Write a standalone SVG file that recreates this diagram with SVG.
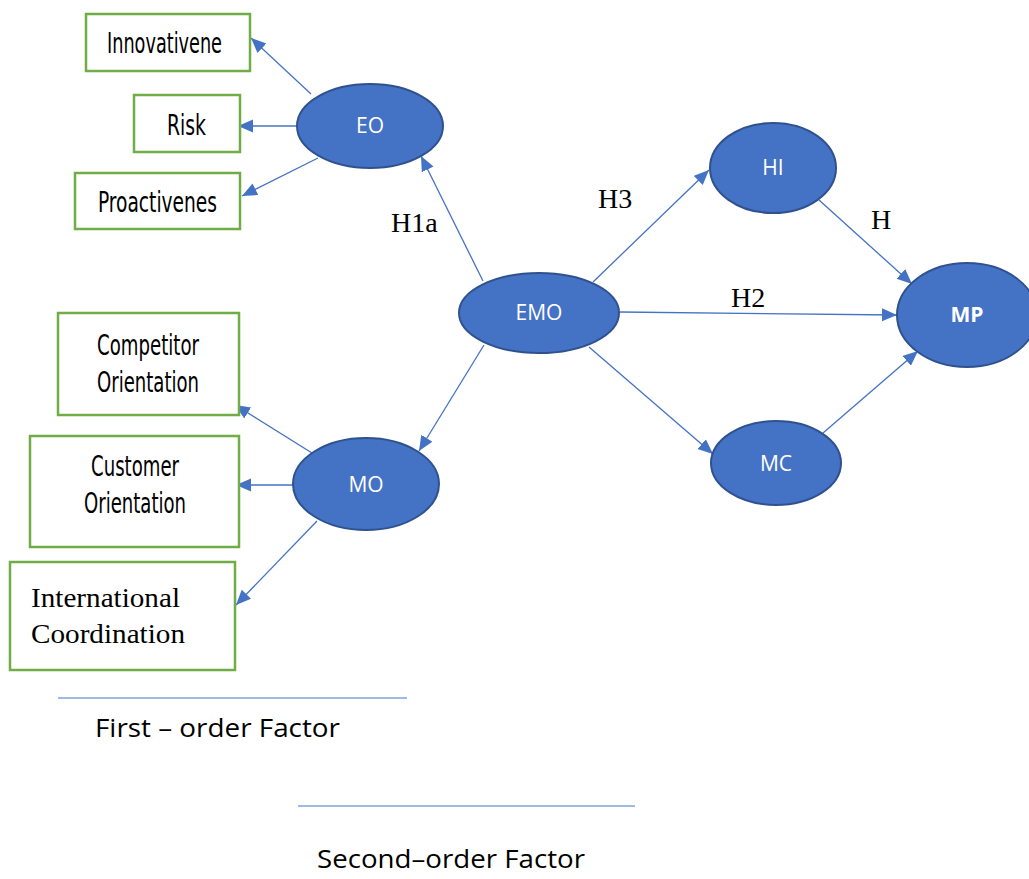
<svg xmlns="http://www.w3.org/2000/svg" width="1029" height="879" viewBox="0 0 1029 879">
<style>
.box{fill:#fff;stroke:#70ad47;stroke-width:2.5}
.ell{fill:#4472c4;stroke:#2f528f;stroke-width:2}
.cond{font-family:"Liberation Sans Narrow","DejaVu Sans Condensed","Roboto",sans-serif;font-stretch:condensed;font-size:29px;fill:#000}
.tnr{font-family:"Liberation Serif","Times New Roman",serif;font-size:28px;fill:#000}
.nl{font-family:"Open Sans","Liberation Sans",sans-serif;font-size:21px;fill:#fff;text-anchor:middle}
.leg{font-family:"Open Sans","Liberation Sans",sans-serif;font-size:26px;fill:#000}
.con{stroke:#4472c4;stroke-width:1.3;fill:none;marker-end:url(#ah)}
.lg{stroke:#7ea6d8;stroke-width:1.5}
</style>
<defs>
<marker id="ah" markerUnits="userSpaceOnUse" markerWidth="16" markerHeight="14" refX="15" refY="6.5" orient="auto">
<path d="M0,0 L15,6.5 L0,13 z" fill="#4472c4"/>
</marker>
</defs>
<g id="connectors">
<line class="con" x1="311" y1="94" x2="251" y2="38"/>
<line class="con" x1="297" y1="126" x2="238" y2="126"/>
<line class="con" x1="318" y1="158" x2="242" y2="196"/>
<line class="con" x1="312" y1="453" x2="235" y2="405"/>
<line class="con" x1="293" y1="485" x2="236" y2="485"/>
<line class="con" x1="317" y1="521" x2="236" y2="605"/>
<line class="con" x1="483" y1="281" x2="421" y2="156"/>
<line class="con" x1="484" y1="345" x2="419" y2="451"/>
<line class="con" x1="593" y1="282" x2="709" y2="170"/>
<line class="con" x1="620" y1="312" x2="897" y2="315"/>
<line class="con" x1="589" y1="347" x2="713" y2="454"/>
<line class="con" x1="819" y1="200" x2="912" y2="284"/>
<line class="con" x1="823" y1="433" x2="918" y2="351"/>
</g>
<g id="innovativene"><rect class="box" x="86" y="14" width="164" height="57"/><text class="cond" x="107" y="53" textLength="115" lengthAdjust="spacingAndGlyphs">Innovativene</text></g>
<g id="risk"><rect class="box" x="134" y="95" width="106" height="57"/><text class="cond" x="167" y="135" textLength="39" lengthAdjust="spacingAndGlyphs">Risk</text></g>
<g id="proactivenes"><rect class="box" x="75" y="173" width="165" height="56"/><text class="cond" x="98" y="212" textLength="119" lengthAdjust="spacingAndGlyphs">Proactivenes</text></g>
<g id="competitor"><rect class="box" x="58" y="313" width="181" height="102"/><text class="cond" x="97" y="355" textLength="102" lengthAdjust="spacingAndGlyphs">Competitor</text><text class="cond" x="97" y="392" textLength="102" lengthAdjust="spacingAndGlyphs">Orientation</text></g>
<g id="customer"><rect class="box" x="30" y="436" width="209" height="111"/><text class="cond" x="91" y="476" textLength="88" lengthAdjust="spacingAndGlyphs">Customer</text><text class="cond" x="84" y="513" textLength="102" lengthAdjust="spacingAndGlyphs">Orientation</text></g>
<g id="international"><rect class="box" x="10" y="562" width="225" height="108"/><text class="tnr" x="31" y="607" textLength="149" lengthAdjust="spacingAndGlyphs">International</text><text class="tnr" x="31" y="643" textLength="154" lengthAdjust="spacingAndGlyphs">Coordination</text></g>
<g id="eo"><ellipse class="ell" cx="370" cy="126" rx="73" ry="42"/><text class="nl" x="370" y="133">EO</text></g>
<g id="mo"><ellipse class="ell" cx="366" cy="484" rx="73" ry="46"/><text class="nl" x="366" y="492">MO</text></g>
<g id="emo"><ellipse class="ell" cx="539" cy="313" rx="80" ry="40"/><text class="nl" x="539" y="320">EMO</text></g>
<g id="hi"><ellipse class="ell" cx="773" cy="168" rx="63" ry="45"/><text class="nl" x="773" y="175">HI</text></g>
<g id="mc"><ellipse class="ell" cx="776" cy="463" rx="65" ry="42"/><text class="nl" x="776" y="471">MC</text></g>
<g id="mp"><ellipse class="ell" cx="967" cy="315" rx="70" ry="52"/><text class="nl" x="967" y="322" font-weight="bold">MP</text></g>
<g id="labels">
<text class="tnr" x="391" y="232">H1a</text>
<text class="tnr" x="598" y="208">H3</text>
<text class="tnr" x="871" y="229">H</text>
<text class="tnr" x="731" y="307">H2</text>
</g>
<g id="legend">
<line class="lg" x1="58" y1="698" x2="407" y2="698"/>
<text class="leg" x="95" y="737" textLength="245" lengthAdjust="spacingAndGlyphs">First – order Factor</text>
<line class="lg" x1="298" y1="806" x2="635" y2="806"/>
<text class="leg" x="317" y="868" textLength="268" lengthAdjust="spacingAndGlyphs">Second–order Factor</text>
</g>
</svg>
